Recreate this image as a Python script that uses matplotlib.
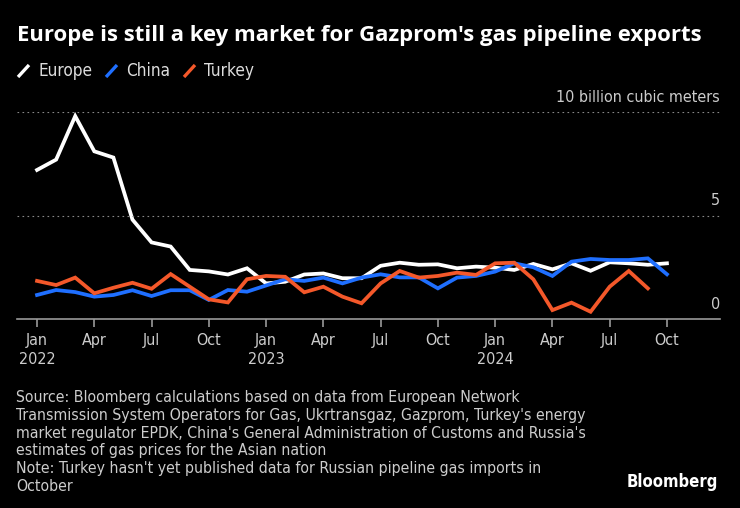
import numpy as np
import matplotlib
matplotlib.use("Agg")
import matplotlib.pyplot as plt
from matplotlib import font_manager

# monthly pipeline gas exports, billion cubic meters, Jan 2022 .. Oct 2024
europe = [7.2, 7.7, 9.8, 8.1, 7.8, 4.8, 3.7, 3.5, 2.37, 2.3, 2.15, 2.45,
          1.72, 1.8, 2.15, 2.2, 1.97, 1.97, 2.57, 2.72, 2.62, 2.64, 2.45, 2.53,
          2.48, 2.37, 2.66, 2.4, 2.69, 2.33, 2.74, 2.69, 2.62, 2.69]
china = [1.16, 1.4, 1.3, 1.08, 1.16, 1.39, 1.11, 1.39, 1.39, 0.92, 1.4, 1.32,
         1.62, 1.92, 1.84, 2.0, 1.72, 2.0, 2.16, 2.01, 2.01, 1.48, 2.0, 2.08,
         2.29, 2.69, 2.5, 2.08, 2.77, 2.9, 2.85, 2.85, 2.93, 2.16]
turkey = [1.84, 1.64, 2.0, 1.24, 1.51, 1.75, 1.46, 2.17, 1.56, 0.95, 0.8, 1.92,
          2.08, 2.04, 1.29, 1.56, 1.08, 0.76, 1.72, 2.32, 2.0, 2.08, 2.24, 2.13,
          2.69, 2.72, 1.92, 0.43, 0.79, 0.35, 1.56, 2.32, 1.48, np.nan]
names = ["Europe", "China", "Turkey"]
colors = ["#ffffff", "#1f6fff", "#f4582a"]
tick_labels = ["Jan\n2022", "Apr", "Jul", "Oct", "Jan\n2023", "Apr", "Jul", "Oct",
               "Jan\n2024", "Apr", "Jul", "Oct"]
y_ticks = [0, 5, 10]
y_labels = ["0", "5", "10 billion cubic meters"]

# narrow font for the small texts
cond = font_manager.FontProperties(family="DejaVu Sans", stretch="condensed")
cond_bold = font_manager.FontProperties(family="DejaVu Sans", stretch="condensed", weight="bold")

W, H = 740, 508
fig = plt.figure(figsize=(W / 100, H / 100), dpi=100, facecolor="black")
ax = fig.add_axes([17 / W, 1 - 319 / H, (720 - 17) / W, (319 - 112) / H])
ax.set_facecolor("black")

x = np.arange(len(europe))
for vals, c in zip([europe, china, turkey], colors):
    ax.plot(x, vals, color=c, lw=2.7, solid_joinstyle="miter", clip_on=False)

ax.set_xlim(-1.05, 35.78)
ax.set_ylim(0, 10)
for s in ["top", "right", "left"]:
    ax.spines[s].set_visible(False)
ax.spines["bottom"].set_color("#999999")
ax.spines["bottom"].set_linewidth(1.2)

ax.set_xticks(x[::3])
ax.set_xticklabels(tick_labels, color="#cccccc", fontproperties=cond, fontsize=11.5,
                   linespacing=1.35)
ax.tick_params(axis="x", length=6, width=1.2, color="#999999", pad=4)
ax.set_yticks([])

for v, lab in zip(y_ticks, y_labels):
    if v > 0:
        ax.axhline(v, color="#888888", lw=0.8, ls=(0, (1.5, 3)))
    ax.text(1.0, v + 0.35, lab, transform=ax.get_yaxis_transform(), ha="right",
            va="bottom", color="#cccccc", fontproperties=cond, fontsize=11.5)

fig.text(17 / W, 1 - 36 / H, "Europe is still a key market for Gazprom's gas pipeline exports",
         color="white", fontsize=15.9, fontweight="bold", family="Open Sans", va="center")

# legend: slanted strokes + labels
lx = 17
for n, c in zip(names, colors):
    fig.add_artist(plt.Line2D([(lx + 1) / W, (lx + 12) / W], [1 - 77 / H, 1 - 65 / H],
                              color=c, lw=2.4, solid_capstyle="butt"))
    t = fig.text((lx + 21) / W, 1 - 71 / H, n, color="#dddddd", fontproperties=cond,
                 fontsize=12.3, va="center")
    fig.canvas.draw()
    bb = t.get_window_extent()
    lx = bb.x1 + 13

source = ("Source: Bloomberg calculations based on data from European Network\n"
          "Transmission System Operators for Gas, Ukrtransgaz, Gazprom, Turkey's energy\n"
          "market regulator EPDK, China's General Administration of Customs and Russia's\n"
          "estimates of gas prices for the Asian nation\n"
          "Note: Turkey hasn't yet published data for Russian pipeline gas imports in\n"
          "October")
fig.text(16 / W, 1 - 390 / H, source, color="#cccccc", fontproperties=cond, fontsize=11.3,
         va="top", linespacing=1.23)
fig.text(718 / W, 1 - 482 / H, "Bloomberg", color="white", fontproperties=cond_bold,
         fontsize=12, ha="right", va="center")

fig.savefig("out.png", dpi=100, facecolor="black")
